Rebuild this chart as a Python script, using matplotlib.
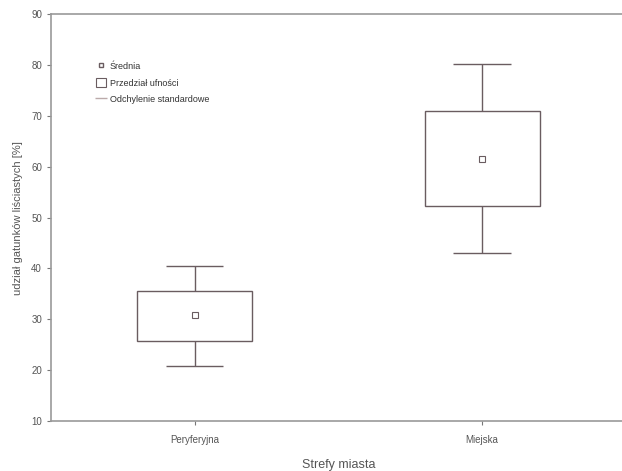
import matplotlib
matplotlib.use("Agg")
import matplotlib.pyplot as plt
from matplotlib.lines import Line2D
from matplotlib.patches import Rectangle

plt.rcParams['font.family'] = ['Liberation Sans', 'DejaVu Sans']

categories = ["Peryferyjna", "Miejska"]
means = [30.9, 61.6]
ci_low = [25.8, 52.2]
ci_high = [35.5, 71.0]
sd_low = [20.8, 43.1]
sd_high = [40.5, 80.1]
y_ticks = [10, 20, 30, 40, 50, 60, 70, 80, 90]

line_col = "#6a5c60"
text_col = "#555555"

fig = plt.figure(figsize=(6.22, 4.71), dpi=100)
ax = fig.add_axes([0.082, 0.106, 0.924, 0.864])

pos = [1, 2]
box_w = 0.4
cap_w = 0.2
for x, m, lo, hi, slo, shi in zip(pos, means, ci_low, ci_high, sd_low, sd_high):
    ax.bar(x, hi - lo, bottom=lo, width=box_w, fill=False,
           edgecolor=line_col, linewidth=1.0)
    ax.vlines(x, hi, shi, color=line_col, linewidth=1.0)
    ax.vlines(x, slo, lo, color=line_col, linewidth=1.0)
    ax.hlines([slo, shi], x - cap_w / 2, x + cap_w / 2, color=line_col, linewidth=1.0)
    ax.plot(x, m, marker='s', markersize=4, markerfacecolor='white',
            markeredgecolor=line_col, markeredgewidth=0.8, linestyle='none')

ax.set_xlim(0.5, 2.5)
ax.set_ylim(10, 90)
ax.set_yticks(y_ticks)
ax.set_xticks(pos)
ax.set_xticklabels(categories)
ax.tick_params(axis='both', colors='#777777', labelcolor=text_col, labelsize=7,
               length=3, width=0.8, direction='out')
ax.tick_params(axis='x', pad=7)
for s in ax.spines.values():
    s.set_color('#999999')
    s.set_linewidth(1.2)

ax.set_ylabel("udział gatunków liściastych [%]", fontsize=8, color=text_col, labelpad=6)
ax.set_xlabel("Strefy miasta", fontsize=9, color=text_col, labelpad=10)

handles = [
    Line2D([0], [0], marker='s', markersize=3, markerfacecolor='white',
           markeredgecolor=line_col, linestyle='none'),
    Rectangle((0, 0), 1, 1, fill=False, edgecolor=line_col, linewidth=0.8),
    Line2D([0], [0], marker='_', markersize=8, color='#bbaaaa', linestyle='none'),
]
labels = ["Średnia", "Przedział ufności", "Odchylenie standardowe"]
leg = ax.legend(handles, labels, loc='upper left', bbox_to_anchor=(0.065, 0.905),
                frameon=False, fontsize=6.5, handlelength=1.0, handleheight=1.3,
                handletextpad=0.5, labelspacing=0.75)
for t in leg.get_texts():
    t.set_color('#333333')

fig.savefig("out.png", dpi=100)
